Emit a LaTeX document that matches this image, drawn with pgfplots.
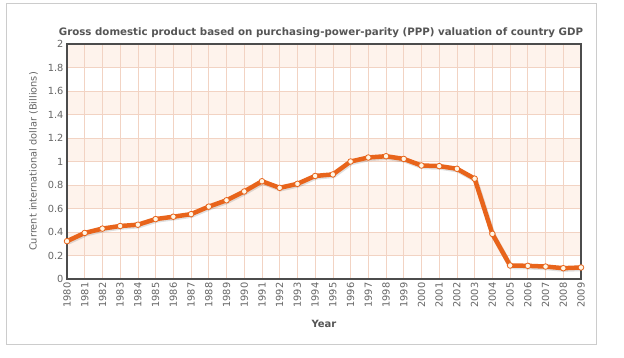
\documentclass[border=0pt]{standalone}
\usepackage{fontspec}
\setmainfont{DejaVu Sans}
\usepackage{pgfplots}
\pgfplotsset{compat=1.18}
\definecolor{lineor}{HTML}{E8641B}
\definecolor{band}{HTML}{FEF3EC}
\definecolor{gridc}{HTML}{F2D3C3}
\definecolor{txt}{HTML}{666666}
\definecolor{ttl}{HTML}{555555}
\definecolor{mfill}{HTML}{FFF6E6}
\begin{document}
\begin{tikzpicture}[x=1pt,y=1pt]
\fill[white] (-67,-78) rectangle (557,279);
\draw[black!20, line width=1pt] (-60,-65) rectangle (529,276);
\begin{axis}[
  at={(0,0)}, anchor=south west,
  scale only axis, width=514pt, height=235pt,
  xmin=1980, xmax=2009, ymin=0, ymax=2,
  xtick={1980,...,2009},
  ytick={0,0.2,...,2.01},
  yticklabels={0,0.2,0.4,0.6,0.8,1,1.2,1.4,1.6,1.8,2},
  /pgf/number format/assume math mode=true,
  xticklabel style={rotate=90, anchor=east, font=\fontsize{9.8}{10}\selectfont, text=txt},
  yticklabel style={font=\fontsize{9.8}{10}\selectfont, text=txt},
  xticklabel={\pgfmathprintnumber[1000 sep={},fixed]{\tick}},
  tick style={draw=none},
  axis line style={draw=black!70, line width=1.2pt},
  title={\textbf{Gross domestic product based on purchasing-power-parity (PPP) valuation of country GDP}},
  title style={font=\fontsize{10.25}{11}\selectfont, text=ttl, yshift=-3pt, xshift=-3pt},
  xlabel={\textbf{Year}},
  xlabel style={font=\fontsize{10}{11}\selectfont, text=ttl, yshift=-6pt},
  ylabel={Current international dollar (Billions)},
  ylabel style={font=\fontsize{9.8}{11}\selectfont, text=txt, yshift=3pt},
  axis on top,
]
\fill[band] (axis cs:1980,0.2) rectangle (axis cs:2009,0.4);
\fill[band] (axis cs:1980,0.6) rectangle (axis cs:2009,0.8);
\fill[band] (axis cs:1980,1.0) rectangle (axis cs:2009,1.2);
\fill[band] (axis cs:1980,1.4) rectangle (axis cs:2009,1.6);
\fill[band] (axis cs:1980,1.8) rectangle (axis cs:2009,2.0);
\pgfplotsinvokeforeach{1981,...,2008}{\draw[gridc, line width=0.7pt] (axis cs:#1,0) -- (axis cs:#1,2);}
\pgfplotsinvokeforeach{0.2,0.4,...,1.9}{\draw[gridc, line width=0.7pt] (axis cs:1980,#1) -- (axis cs:2009,#1);}
\addplot[black, opacity=0.12, line width=5pt, forget plot, shift={(0.8pt,-1.2pt)}] coordinates {
(1980,0.322)(1981,0.392)(1982,0.429)(1983,0.451)(1984,0.462)(1985,0.51)(1986,0.53)(1987,0.552)(1988,0.616)(1989,0.67)(1990,0.745)(1991,0.832)(1992,0.776)(1993,0.81)(1994,0.877)(1995,0.89)(1996,1.0)(1997,1.034)(1998,1.045)(1999,1.022)(2000,0.966)(2001,0.961)(2002,0.938)(2003,0.854)(2004,0.384)(2005,0.115)(2006,0.112)(2007,0.106)(2008,0.092)(2009,0.098)};
\addplot[lineor, line width=4.5pt, line join=round, mark=*, mark size=2.8pt,
  mark options={fill=mfill, draw=lineor, line width=0.8pt}] coordinates {
(1980,0.322)(1981,0.392)(1982,0.429)(1983,0.451)(1984,0.462)(1985,0.51)(1986,0.53)(1987,0.552)(1988,0.616)(1989,0.67)(1990,0.745)(1991,0.832)(1992,0.776)(1993,0.81)(1994,0.877)(1995,0.89)(1996,1.0)(1997,1.034)(1998,1.045)(1999,1.022)(2000,0.966)(2001,0.961)(2002,0.938)(2003,0.854)(2004,0.384)(2005,0.115)(2006,0.112)(2007,0.106)(2008,0.092)(2009,0.098)};
\end{axis}
\useasboundingbox (-67,-78) rectangle (557,279);
\end{tikzpicture}
\end{document}
